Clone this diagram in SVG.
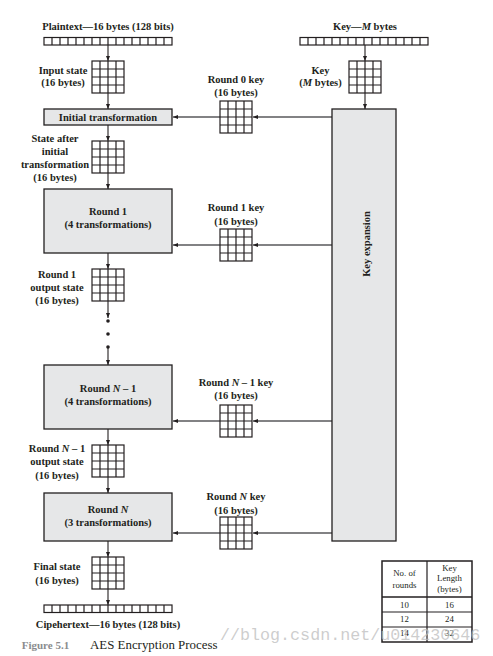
<svg xmlns="http://www.w3.org/2000/svg" xmlns:xlink="http://www.w3.org/1999/xlink" width="493" height="656" viewBox="0 0 493 656">
<style>
  .lbl { font-family: "Liberation Serif", "Times New Roman", serif; font-weight: bold; font-size: 10.5px; fill: #231f20; text-anchor: middle; }
  .box { fill: #e6e7e8; stroke: #231f20; stroke-width: 1.3; }
  .cell { fill: #ffffff; stroke: #231f20; stroke-width: 1.2; }
  .cl { stroke: #231f20; stroke-width: 1.2; fill: none; }
  .arr { stroke: #231f20; stroke-width: 1.1; fill: none; marker-end: url(#ah); }
  .karr { stroke: #58595b; stroke-width: 1.4; fill: none; marker-end: url(#ah); }
  .tbl { font-family: "Liberation Serif", "Times New Roman", serif; font-size: 8.8px; fill: #231f20; text-anchor: middle; }
  .it { font-style: italic; }
</style>
<defs>
  <marker id="ah" markerUnits="userSpaceOnUse" markerWidth="5" markerHeight="4" refX="5" refY="2" orient="auto">
    <path d="M0,0 L5,2 L0,4 z" fill="#231f20"/>
  </marker>
  <g id="grid">
    <rect class="cell" x="0" y="0" width="32" height="32"/>
    <path class="cl" d="M8,0V32M16,0V32M24,0V32M0,8H32M0,16H32M0,24H32"/>
  </g>
  <g id="row">
    <rect class="cell" x="0" y="0" width="128" height="7.5"/>
    <path class="cl" d="M8,0v7.5M16,0v7.5M24,0v7.5M32,0v7.5M40,0v7.5M48,0v7.5M56,0v7.5M64,0v7.5M72,0v7.5M80,0v7.5M88,0v7.5M96,0v7.5M104,0v7.5M112,0v7.5M120,0v7.5"/>
  </g>
</defs>
<rect x="0" y="0" width="493" height="656" fill="#ffffff"/>

<g id="connectors">
  <line class="arr" x1="108" y1="45" x2="108" y2="61"/>
  <line class="arr" x1="108" y1="93" x2="108" y2="109"/>
  <line class="arr" x1="108" y1="125" x2="108" y2="141"/>
  <line class="arr" x1="108" y1="173" x2="108" y2="189"/>
  <line class="arr" x1="108" y1="253" x2="108" y2="269"/>
  <line class="arr" x1="108" y1="301" x2="108" y2="318"/>
  <circle cx="108" cy="321" r="1.8" fill="#231f20"/>
  <circle cx="108" cy="334" r="1.8" fill="#231f20"/>
  <circle cx="108" cy="347" r="1.8" fill="#231f20"/>
  <line class="arr" x1="108" y1="347" x2="108" y2="365"/>
  <line class="arr" x1="108" y1="429" x2="108" y2="445"/>
  <line class="arr" x1="108" y1="477" x2="108" y2="493"/>
  <line class="arr" x1="108" y1="541" x2="108" y2="557"/>
  <line class="arr" x1="108" y1="589" x2="108" y2="605"/>
  <line class="arr" x1="365" y1="45" x2="365" y2="61"/>
  <line class="arr" x1="365" y1="93" x2="365" y2="109"/>
  <line class="karr" x1="332" y1="117" x2="253" y2="117"/>
  <line class="karr" x1="220" y1="117" x2="173" y2="117"/>
  <line class="karr" x1="332" y1="245" x2="253" y2="245"/>
  <line class="karr" x1="220" y1="245" x2="173" y2="245"/>
  <line class="karr" x1="332" y1="421" x2="253" y2="421"/>
  <line class="karr" x1="220" y1="421" x2="173" y2="421"/>
  <line class="karr" x1="332" y1="533" x2="253" y2="533"/>
  <line class="karr" x1="220" y1="533" x2="173" y2="533"/>
</g>

<g id="plaintext">
  <text class="lbl" x="108" y="30">Plaintext—16 bytes (128 bits)</text>
  <use xlink:href="#row" x="44" y="37.5"/>
</g>
<g id="input-state">
  <use xlink:href="#grid" x="92" y="61"/>
  <text class="lbl" x="63" y="73.5">Input state</text>
  <text class="lbl" x="63" y="86">(16 bytes)</text>
</g>
<g id="initial-transformation">
  <rect class="box" x="44" y="109" width="128" height="16"/>
  <text class="lbl" x="108" y="121">Initial transformation</text>
</g>
<g id="state-after-initial">
  <use xlink:href="#grid" x="92" y="141"/>
  <text class="lbl" x="55" y="141.5">State after</text>
  <text class="lbl" x="55" y="155">initial</text>
  <text class="lbl" x="55" y="168">transformation</text>
  <text class="lbl" x="55" y="180.5">(16 bytes)</text>
</g>
<g id="round-1">
  <rect class="box" x="44" y="189" width="128" height="64"/>
  <text class="lbl" x="108" y="215">Round 1</text>
  <text class="lbl" x="108" y="228">(4 transformations)</text>
</g>
<g id="round-1-output">
  <use xlink:href="#grid" x="92" y="269"/>
  <text class="lbl" x="57" y="278">Round 1</text>
  <text class="lbl" x="57" y="291">output state</text>
  <text class="lbl" x="57" y="303.5">(16 bytes)</text>
</g>
<g id="round-n-1">
  <rect class="box" x="44" y="365" width="128" height="64"/>
  <text class="lbl" x="108" y="392">Round <tspan class="it">N</tspan> – 1</text>
  <text class="lbl" x="108" y="405">(4 transformations)</text>
</g>
<g id="round-n-1-output">
  <use xlink:href="#grid" x="92" y="445"/>
  <text class="lbl" x="57" y="452">Round <tspan class="it">N</tspan> – 1</text>
  <text class="lbl" x="57" y="465">output state</text>
  <text class="lbl" x="57" y="478.5">(16 bytes)</text>
</g>
<g id="round-n">
  <rect class="box" x="44" y="493" width="128" height="48"/>
  <text class="lbl" x="108" y="513">Round <tspan class="it">N</tspan></text>
  <text class="lbl" x="108" y="525.5">(3 transformations)</text>
</g>
<g id="final-state">
  <use xlink:href="#grid" x="92" y="557"/>
  <text class="lbl" x="57" y="570">Final state</text>
  <text class="lbl" x="57" y="583.5">(16 bytes)</text>
</g>
<g id="ciphertext">
  <use xlink:href="#row" x="44" y="605"/>
  <text class="lbl" x="108" y="627.5">Cipehertext—16 bytes (128 bits)</text>
</g>

<g id="key-input">
  <text class="lbl" x="365" y="30">Key—<tspan class="it">M</tspan> bytes</text>
  <use xlink:href="#row" x="300" y="37.5"/>
</g>
<g id="key-state">
  <use xlink:href="#grid" x="349" y="61"/>
  <text class="lbl" x="320.5" y="73.5">Key</text>
  <text class="lbl" x="320.5" y="86">(<tspan class="it">M</tspan> bytes)</text>
</g>
<g id="key-expansion">
  <rect class="box" x="332" y="109" width="64" height="432"/>
  <text class="lbl" transform="translate(369.5,244) rotate(-90)" x="0" y="0">Key expansion</text>
</g>
<g id="round-0-key">
  <use xlink:href="#grid" x="220" y="101"/>
  <text class="lbl" x="236" y="83">Round 0 key</text>
  <text class="lbl" x="236" y="95.5">(16 bytes)</text>
</g>
<g id="round-1-key">
  <use xlink:href="#grid" x="220" y="229"/>
  <text class="lbl" x="236" y="211">Round 1 key</text>
  <text class="lbl" x="236" y="224.5">(16 bytes)</text>
</g>
<g id="round-n-1-key">
  <use xlink:href="#grid" x="220" y="405"/>
  <text class="lbl" x="236" y="386">Round <tspan class="it">N</tspan> – 1 key</text>
  <text class="lbl" x="236" y="399">(16 bytes)</text>
</g>
<g id="round-n-key">
  <use xlink:href="#grid" x="220" y="517"/>
  <text class="lbl" x="236" y="500">Round <tspan class="it">N</tspan> key</text>
  <text class="lbl" x="236" y="513.5">(16 bytes)</text>
</g>

<g id="table">
  <rect x="382" y="561" width="90" height="81" fill="#ffffff" stroke="#231f20" stroke-width="1.5"/>
  <line x1="427" y1="561" x2="427" y2="642" stroke="#231f20" stroke-width="1.2"/>
  <line x1="382" y1="597" x2="472" y2="597" stroke="#231f20" stroke-width="1.5"/>
  <line x1="382" y1="612" x2="472" y2="612" stroke="#231f20" stroke-width="1.2"/>
  <line x1="382" y1="627" x2="472" y2="627" stroke="#231f20" stroke-width="1.2"/>
  <text class="tbl" x="404.5" y="576.3">No. of</text>
  <text class="tbl" x="404.5" y="588">rounds</text>
  <text class="tbl" x="449.5" y="571.3">Key</text>
  <text class="tbl" x="449.5" y="581.3">Length</text>
  <text class="tbl" x="449.5" y="592.3">(bytes)</text>
  <text class="tbl" x="404.5" y="608">10</text>
  <text class="tbl" x="449.5" y="608">16</text>
  <text class="tbl" x="404.5" y="622">12</text>
  <text class="tbl" x="449.5" y="622">24</text>
  <text class="tbl" x="404.5" y="636.3">14</text>
  <text class="tbl" x="449.5" y="636.3">32</text>
</g>

<g id="caption">
  <text x="21.7" y="648.5" font-family="Liberation Serif, serif" font-weight="bold" font-size="11px" fill="#8a8c8e">Figure 5.1</text>
  <text x="90" y="648.5" font-family="Liberation Serif, serif" font-size="12.9px" fill="#231f20">AES Encryption Process</text>
</g>
<text x="220" y="640" font-family="Liberation Mono, monospace" font-size="16.7px" fill="#bdbdbd" fill-opacity="0.75">//blog.csdn.net/u014230646</text>
</svg>
